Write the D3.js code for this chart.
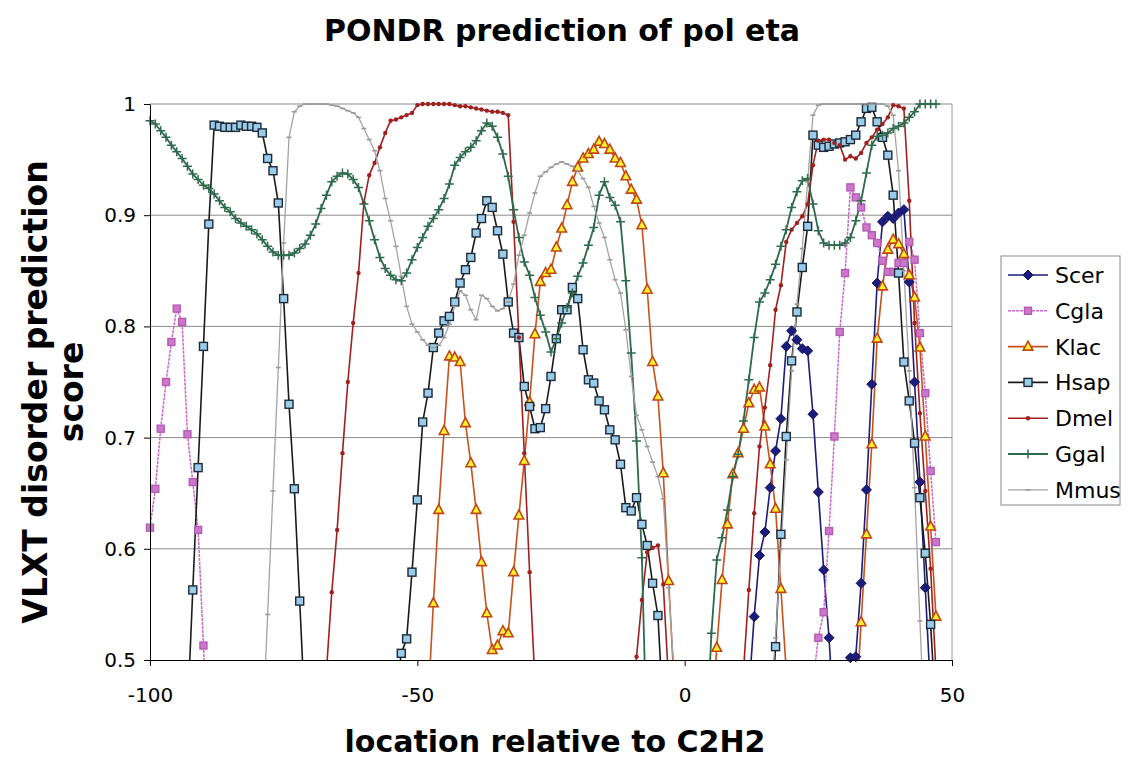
<!DOCTYPE html>
<html><head><meta charset="utf-8">
<script src="https://cdn.jsdelivr.net/npm/d3@7"></script>
<style>body{margin:0;background:#fff;} svg{display:block;font-family:"DejaVu Sans",Verdana,sans-serif;}</style>
</head><body><svg id="c" width="1130" height="761"></svg>
<script>
// ---- data ----
const chartTitle = "PONDR prediction of pol eta";
const xLabel = "location relative to C2H2";
const yLabelLines = ["VLXT disorder prediction", "score"];
const xTicks = [-100, -50, 0, 50];
const xTickLabels = ["-100", "-50", "0", "50"];
const yTicks = [0.5, 0.6, 0.7, 0.8, 0.9, 1];
const yTickLabels = ["0.5", "0.6", "0.7", "0.8", "0.9", "1"];
const seriesNames = ["Scer", "Cgla", "Klac", "Hsap", "Dmel", "Ggal", "Mmus"];

// each series: start positions of its runs + values at consecutive positions
const scerStarts = [12, 30];
const scerValues = [
  [0.47, 0.539, 0.594, 0.615, 0.655, 0.688, 0.717, 0.782, 0.796, 0.788, 0.78, 0.778, 0.721, 0.651, 0.581, 0.52, 0.44],
  [0.45, 0.502, 0.503, 0.569, 0.653, 0.748, 0.839, 0.894, 0.899, 0.897, 0.902, 0.905, 0.84, 0.75, 0.66, 0.565, 0.47]
];
const cglaStarts = [-100, 23];
const cglaValues = [
  [0.619, 0.654, 0.708, 0.75, 0.786, 0.816, 0.804, 0.703, 0.66, 0.617, 0.513, 0.42],
  [0.42, 0.48, 0.52, 0.543, 0.616, 0.701, 0.795, 0.848, 0.925, 0.916, 0.907, 0.889, 0.882, 0.875, 0.859, 0.849, 0.849, 0.857, 0.857, 0.876, 0.86, 0.794, 0.74, 0.67, 0.606]
];
const klacStarts = [-48, 5, 32];
const klacValues = [
  [0.46, 0.551, 0.635, 0.706, 0.773, 0.772, 0.768, 0.713, 0.677, 0.635, 0.588, 0.542, 0.509, 0.513, 0.526, 0.524, 0.579, 0.63, 0.679, 0.732, 0.793, 0.84, 0.848, 0.851, 0.871, 0.888, 0.909, 0.93, 0.943, 0.951, 0.955, 0.959, 0.966, 0.964, 0.959, 0.951, 0.947, 0.935, 0.923, 0.914, 0.891, 0.833, 0.768, 0.737, 0.668, 0.571, 0.48],
  [0.44, 0.511, 0.572, 0.622, 0.667, 0.686, 0.708, 0.731, 0.743, 0.745, 0.71, 0.676, 0.636, 0.564, 0.49],
  [0.45, 0.534, 0.613, 0.694, 0.789, 0.836, 0.869, 0.878, 0.874, 0.865, 0.846, 0.826, 0.781, 0.701, 0.62, 0.539]
];
const hsapStarts = [-93, -54, 16];
const hsapValues = [
  [0.45, 0.563, 0.673, 0.782, 0.892, 0.981, 0.98, 0.979, 0.979, 0.979, 0.981, 0.98, 0.98, 0.979, 0.974, 0.951, 0.94, 0.911, 0.825, 0.73, 0.654, 0.553, 0.45],
  [0.47, 0.506, 0.519, 0.579, 0.644, 0.714, 0.74, 0.781, 0.794, 0.805, 0.809, 0.822, 0.839, 0.851, 0.862, 0.884, 0.897, 0.913, 0.907, 0.886, 0.865, 0.822, 0.794, 0.79, 0.746, 0.728, 0.708, 0.709, 0.726, 0.755, 0.789, 0.815, 0.815, 0.835, 0.825, 0.779, 0.752, 0.749, 0.733, 0.725, 0.707, 0.698, 0.676, 0.637, 0.634, 0.646, 0.622, 0.603, 0.569, 0.54, 0.45],
  [0.43, 0.512, 0.613, 0.701, 0.769, 0.813, 0.853, 0.89, 0.972, 0.963, 0.961, 0.962, 0.964, 0.965, 0.966, 0.968, 0.972, 0.984, 0.996, 0.997, 0.984, 0.97, 0.954, 0.918, 0.848, 0.768, 0.733, 0.695, 0.646, 0.596, 0.532, 0.45]
];
const dmelStarts = [-67, -10, 10];
const dmelValues = [
  [0.49, 0.561, 0.617, 0.686, 0.75, 0.803, 0.848, 0.911, 0.936, 0.947, 0.961, 0.974, 0.985, 0.986, 0.988, 0.99, 0.992, 0.999, 1.0, 1.0, 1.0, 1.0, 1.0, 1.0, 0.999, 0.998, 0.998, 0.997, 0.996, 0.995, 0.994, 0.993, 0.993, 0.992, 0.99, 0.894, 0.79, 0.686, 0.579, 0.48],
  [0.45, 0.503, 0.554, 0.597, 0.601, 0.603, 0.568, 0.48],
  [0.44, 0.49, 0.563, 0.632, 0.692, 0.727, 0.765, 0.815, 0.837, 0.876, 0.887, 0.893, 0.899, 0.91, 0.945, 0.967, 0.968, 0.968, 0.965, 0.963, 0.95, 0.953, 0.951, 0.956, 0.965, 0.97, 0.977, 0.982, 0.988, 0.999, 0.998, 0.996, 0.913, 0.803, 0.722, 0.652, 0.582, 0.49]
];
const ggalStarts = [-100, 4];
const ggalValues = [
  [0.985, 0.982, 0.976, 0.970, 0.963, 0.957, 0.951, 0.944, 0.937, 0.932,
   0.927, 0.924, 0.919, 0.913, 0.907, 0.903, 0.897, 0.893, 0.890, 0.887,
   0.883, 0.878, 0.872, 0.867, 0.864, 0.864, 0.864, 0.866, 0.870, 0.874,
   0.882, 0.892, 0.906, 0.918, 0.930, 0.935, 0.938, 0.937, 0.932, 0.925,
   0.910, 0.895, 0.878, 0.862, 0.852, 0.846, 0.842, 0.841, 0.848, 0.860,
   0.871, 0.880, 0.890, 0.897, 0.905, 0.915, 0.928, 0.945, 0.952, 0.957,
   0.961, 0.967, 0.976, 0.983, 0.980, 0.970, 0.955, 0.935, 0.905, 0.880,
   0.858, 0.846, 0.826, 0.810, 0.795, 0.777, 0.789, 0.803, 0.817, 0.830,
   0.845, 0.857, 0.873, 0.889, 0.918, 0.930, 0.916, 0.909, 0.894, 0.841,
   0.776, 0.697, 0.592, 0.41],
  [0.42, 0.524, 0.59, 0.61, 0.635, 0.665, 0.685, 0.715, 0.752, 0.79, 0.822, 0.83, 0.842, 0.856, 0.872, 0.887, 0.907, 0.921, 0.931, 0.933, 0.91, 0.886, 0.875, 0.873, 0.873, 0.873, 0.875, 0.88, 0.895, 0.913, 0.938, 0.963, 0.971, 0.972, 0.974, 0.978, 0.98, 0.983, 0.988, 0.993, 1.0, 1.0, 1.0, 1.0]
];
const mmusStarts = [-79, 15];
const mmusValues = [
  [0.43, 0.541, 0.652, 0.763, 0.875, 0.97, 0.993, 0.998, 1.0, 1.0,
   1.0, 1.0, 1.0, 0.999, 0.998, 0.996, 0.994, 0.992, 0.988, 0.978,
   0.968, 0.958, 0.94, 0.915, 0.895, 0.872, 0.845, 0.818, 0.802, 0.795,
   0.788, 0.783, 0.781, 0.783, 0.79, 0.802, 0.818, 0.832, 0.828, 0.815,
   0.806, 0.828, 0.825, 0.818, 0.814, 0.816, 0.822, 0.838, 0.864, 0.882,
   0.902, 0.92, 0.935, 0.939, 0.943, 0.946, 0.948, 0.946, 0.944, 0.94,
   0.933, 0.925, 0.908, 0.893, 0.88, 0.86, 0.842, 0.83, 0.797, 0.755,
   0.72, 0.707, 0.692, 0.678, 0.665, 0.645, 0.565, 0.49, 0.42],
  [0.42, 0.46, 0.52, 0.6, 0.68, 0.76, 0.82, 0.87, 0.93, 0.99, 0.999, 1.0, 1.0, 1.0, 1.0, 1.0, 1.0, 1.0, 1.0, 1.0, 1.0, 1.0, 1.0, 0.998, 0.99, 0.94, 0.85, 0.76, 0.655, 0.535, 0.42]
];

// ---- styles ----
const styles = {
  Scer: {line: "#1c1c7c", width: 1.6, marker: "diamond", fill: "#1c1c7c", stroke: "#14145e"},
  Cgla: {line: "#cc66cc", width: 1.5, dash: "3,1", marker: "square", fill: "#cc77cc", stroke: "#b45cb4", msize: 7},
  Klac: {line: "#c8501c", width: 1.6, marker: "triangle", fill: "#fff030", stroke: "#c04810"},
  Hsap: {line: "#1a1a1a", width: 1.6, marker: "square", fill: "#9ccbe8", stroke: "#1b2a3a", msize: 8},
  Dmel: {line: "#a02020", width: 1.6, marker: "dot", fill: "#a02020", stroke: "#a02020"},
  Ggal: {line: "#2e6a4c", width: 1.8, marker: "plus", fill: "none", stroke: "#2e6a4c"},
  Mmus: {line: "#a4a4a4", width: 1.3, marker: "dash", fill: "none", stroke: "#9a9a9a"}
};

const seriesData = {
  Scer: [scerStarts, scerValues], Cgla: [cglaStarts, cglaValues], Klac: [klacStarts, klacValues],
  Hsap: [hsapStarts, hsapValues], Dmel: [dmelStarts, dmelValues], Ggal: [ggalStarts, ggalValues],
  Mmus: [mmusStarts, mmusValues]
};

const svg = d3.select("#c");
const L = 150, R = 952, T = 104, B = 660;
const x = d3.scaleLinear().domain([-100, 50]).range([L, R]);
const y = d3.scaleLinear().domain([0.5, 1]).range([B, T]);

svg.append("defs").append("clipPath").attr("id", "plotclip")
  .append("rect").attr("x", L).attr("y", T - 1).attr("width", R - L).attr("height", B - T + 1);

// gridlines
svg.append("g").selectAll("line").data(yTicks.filter(d => d > 0.5)).join("line")
  .attr("x1", L).attr("x2", R).attr("y1", d => y(d)).attr("y2", d => y(d))
  .attr("stroke", "#8c8c8c").attr("stroke-width", 1);
svg.append("line").attr("x1", R).attr("x2", R).attr("y1", T).attr("y2", B)
  .attr("stroke", "#9a9a9a").attr("stroke-width", 1);

// title & labels
svg.append("text").attr("x", 562).attr("y", 41).attr("text-anchor", "middle")
  .attr("font-size", 30).attr("font-weight", "bold").text(chartTitle);
svg.append("text").attr("x", 555).attr("y", 752).attr("text-anchor", "middle")
  .attr("font-size", 30).attr("font-weight", "bold").text(xLabel);
const yl = svg.append("text").attr("transform", "translate(47,392) rotate(-90)")
  .attr("text-anchor", "middle").attr("font-size", 33).attr("font-weight", "bold");
yl.append("tspan").attr("x", 0).attr("dy", 0).text(yLabelLines[0]);
yl.append("tspan").attr("x", 0).attr("dy", 36).text(yLabelLines[1]);

// series
const lineGen = d3.line().x(d => x(d.x)).y(d => y(d.y));
const plotG = svg.append("g");
const lineG = plotG.append("g").attr("clip-path", "url(#plotclip)");

function drawMarker(g, s, cx, cy) {
  const st = styles[s];
  if (st.marker === "diamond") {
    g.append("path").attr("d", `M${cx},${cy-5}L${cx+5},${cy}L${cx},${cy+5}L${cx-5},${cy}Z`)
      .attr("fill", st.fill).attr("stroke", st.stroke).attr("stroke-width", 1);
  } else if (st.marker === "square") {
    const h = st.msize / 2;
    g.append("rect").attr("x", cx - h).attr("y", cy - h).attr("width", st.msize).attr("height", st.msize)
      .attr("fill", st.fill).attr("stroke", st.stroke).attr("stroke-width", 1.4);
  } else if (st.marker === "triangle") {
    g.append("path").attr("d", `M${cx},${cy-5.5}L${cx+4.8},${cy+3.5}L${cx-4.8},${cy+3.5}Z`)
      .attr("fill", st.fill).attr("stroke", st.stroke).attr("stroke-width", 1.6);
  } else if (st.marker === "dot") {
    g.append("circle").attr("cx", cx).attr("cy", cy).attr("r", 2.2).attr("fill", st.fill);
  } else if (st.marker === "plus") {
    g.append("path").attr("d", `M${cx-4.5},${cy}H${cx+4.5}M${cx},${cy-4.5}V${cy+4.5}`)
      .attr("stroke", st.stroke).attr("stroke-width", 1.5).attr("fill", "none");
  } else if (st.marker === "dash") {
    g.append("path").attr("d", `M${cx-2.5},${cy}H${cx+2.5}`)
      .attr("stroke", st.stroke).attr("stroke-width", 1.6).attr("fill", "none");
  }
}

seriesNames.forEach(s => {
  const [starts, vals] = seriesData[s];
  const st = styles[s];
  const segs = starts.map((s0, i) => vals[i].map((v, j) => ({x: s0 + j, y: v})));
  segs.forEach(seg => {
    lineG.append("path").attr("d", lineGen(seg)).attr("fill", "none")
      .attr("stroke", st.line).attr("stroke-width", st.width)
      .attr("stroke-dasharray", st.dash || null).attr("stroke-linejoin", "round");
  });
  const mg = plotG.append("g");
  segs.flat().filter(d => d.y >= 0.5 && d.y <= 1.0001).forEach(d => drawMarker(mg, s, x(d.x), y(d.y)));
});

// axes
const xAxis = d3.axisBottom(x).tickValues(xTicks).tickFormat((d, i) => xTickLabels[i]).tickSize(6).tickSizeOuter(0).tickPadding(22);
const gx = svg.append("g").attr("transform", `translate(0,${B})`).call(xAxis);
gx.selectAll("text").attr("font-size", 20).attr("font-family", "DejaVu Sans").attr("fill", "#000");
gx.selectAll("line,path").attr("stroke", "#000");
const yAxis = d3.axisLeft(y).tickValues(yTicks).tickFormat((d, i) => yTickLabels[i]).tickSize(6).tickSizeOuter(0).tickPadding(8);
const gy = svg.append("g").attr("transform", `translate(${L},0)`).call(yAxis);
gy.selectAll("text").attr("font-size", 20).attr("font-family", "DejaVu Sans").attr("fill", "#000");
gy.selectAll("line,path").attr("stroke", "#000");

// legend
const lg = svg.append("g");
lg.append("rect").attr("x", 1001).attr("y", 256).attr("width", 119).attr("height", 249)
  .attr("fill", "#fff").attr("stroke", "#8a8a8a").attr("stroke-width", 1);
seriesNames.forEach((s, i) => {
  const st = styles[s];
  const cy = 275 + i * 35.8;
  lg.append("line").attr("x1", 1008).attr("x2", 1048).attr("y1", cy).attr("y2", cy)
    .attr("stroke", st.line).attr("stroke-width", st.width).attr("stroke-dasharray", st.dash || null);
  drawMarker(lg, s, 1028, cy);
  lg.append("text").attr("x", 1055).attr("y", cy).attr("dy", "0.36em")
    .attr("font-size", 22).text(s);
});
</script></body></html>
